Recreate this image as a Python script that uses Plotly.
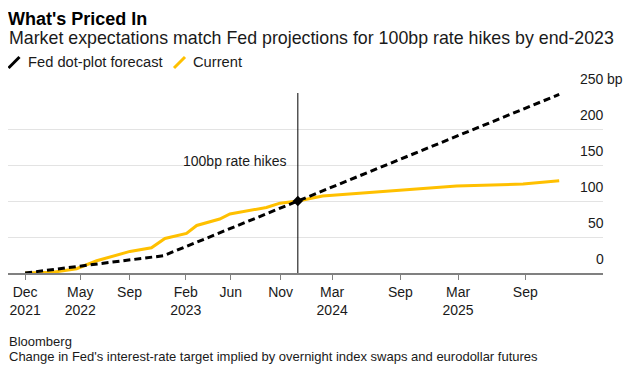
import plotly.graph_objects as go

# ---------------- data ----------------
fed_dates = ["2021-12-01", "2022-12-15", "2023-12-18", "2024-12-15", "2025-12-03"]
fed_values = [0, 24, 100, 175, 248]

cur_dates = ["2021-12-01", "2022-02-15", "2022-04-21", "2022-06-15", "2022-09-14",
             "2022-11-12", "2022-12-19", "2023-02-16", "2023-03-16", "2023-05-18",
             "2023-06-15", "2023-09-23", "2023-10-30", "2023-12-18", "2024-02-24",
             "2024-07-02", "2024-10-11", "2025-02-25", "2025-08-26", "2025-12-03"]
cur_values = [0, 1, 6, 17, 30, 35, 48, 55, 66, 75, 82, 91, 97, 100, 107, 112, 116.5,
              121, 123.5, 128]

event_date = ["2023-12-18"]
event_value = [100]
event_label = "100bp rate hikes"

series_names = ["Fed dot-plot forecast", "Current"]
series_colors = ["#000000", "#FFC000"]

x_tick_dates = ["2021-12-01", "2022-05-01", "2022-09-13", "2023-02-14", "2023-06-17",
                "2023-11-01", "2024-03-21", "2024-09-24", "2025-03-01", "2025-09-01"]
x_tick_text = ["Dec<br>2021", "May<br>2022", "Sep", "Feb<br>2023", "Jun", "Nov",
               "Mar<br>2024", "Sep", "Mar<br>2025", "Sep"]
y_ticks = [0, 50, 100, 150, 200, 250]
y_unit = "bp"

title = "What's Priced In"
subtitle = "Market expectations match Fed projections for 100bp rate hikes by end-2023"
source = "Bloomberg"
note = "Change in Fed's interest-rate target implied by overnight index swaps and eurodollar futures"

# ---------------- layout geometry ----------------
# the page body has an 8px margin, so the figure is drawn 8px in and down
OFF = 8
W, H = 640 - OFF, 367 - OFF
ML, MR, MT, MB = 8 - OFF, 37, 93 - OFF, 94
PW, PH = W - ML - MR, H - MT - MB
FONT = "Liberation Sans, Arial, Helvetica, sans-serif"


def px(x):
    """reference-page pixel x -> paper coordinate"""
    return (x - OFF - ML) / PW


def py(y):
    """reference-page pixel y -> paper coordinate"""
    return (H - MB - (y - OFF)) / PH


fig = go.Figure()

fig.add_trace(go.Scatter(
    x=cur_dates, y=cur_values, mode="lines", name=series_names[1],
    line=dict(color=series_colors[1], width=3), cliponaxis=False, showlegend=False))
fig.add_trace(go.Scatter(
    x=fed_dates, y=fed_values, mode="lines", name=series_names[0],
    line=dict(color=series_colors[0], width=3, dash="7px,4px"), cliponaxis=False,
    showlegend=False))
fig.add_trace(go.Scatter(
    x=event_date, y=event_value, mode="markers",
    marker=dict(color="#000000", size=8, symbol="diamond"), cliponaxis=False,
    showlegend=False))

annotations = []
annotations.append(dict(text="<b>%s</b>" % title, x=px(7), y=py(8), xref="paper", yref="paper",
                        xanchor="left", yanchor="top", showarrow=False, borderpad=0,
                        font=dict(family=FONT, size=18, color="#000000")))
annotations.append(dict(text=subtitle, x=px(7), y=py(38), xref="paper", yref="paper",
                        xanchor="left", yanchor="middle", showarrow=False,
                        font=dict(family=FONT, size=17.8, color="#1a1a1a")))
for name, lx in zip(series_names, [26, 191]):
    annotations.append(dict(text=name, x=px(lx), y=py(62.4), xref="paper", yref="paper",
                            xanchor="left", yanchor="middle", showarrow=False,
                            font=dict(family=FONT, size=14.7, color="#1a1a1a")))
annotations.append(dict(text=source, x=px(7), y=py(341.5), xref="paper", yref="paper",
                        xanchor="left", yanchor="middle", showarrow=False,
                        font=dict(family=FONT, size=13, color="#1a1a1a")))
annotations.append(dict(text=note, x=px(7), y=py(356.5), xref="paper", yref="paper",
                        xanchor="left", yanchor="middle", showarrow=False,
                        font=dict(family=FONT, size=13, color="#1a1a1a")))
for v in y_ticks:
    annotations.append(dict(text=str(v), x=1, y=v, xref="paper", yref="y",
                            xanchor="right", yanchor="middle", yshift=14, xshift=3,
                            showarrow=False, font=dict(family=FONT, size=14, color="#1a1a1a")))
annotations.append(dict(text=y_unit, x=1, y=y_ticks[-1], xref="paper", yref="y",
                        xanchor="left", yanchor="middle", yshift=14, xshift=2,
                        showarrow=False, font=dict(family=FONT, size=14, color="#1a1a1a")))
annotations.append(dict(text=event_label, x=event_date[0], y=155, xref="x", yref="y",
                        xanchor="right", yanchor="middle", xshift=-9, showarrow=False,
                        font=dict(family=FONT, size=14, color="#1a1a1a")))

shapes = [
    dict(type="line", xref="x", yref="y", x0=event_date[0], x1=event_date[0],
         y0=y_ticks[0], y1=y_ticks[-1], line=dict(color="#000000", width=1)),
    dict(type="line", xref="paper", yref="paper", x0=px(8.5), y0=py(68), x1=px(19.5), y1=py(57),
         line=dict(color=series_colors[0], width=3)),
    dict(type="line", xref="paper", yref="paper", x0=px(174), y0=py(68), x1=px(185), y1=py(57),
         line=dict(color=series_colors[1], width=3)),
]

fig.update_layout(
    width=W, height=H,
    margin=dict(l=ML, r=MR, t=MT, b=MB, pad=0),
    paper_bgcolor="#ffffff", plot_bgcolor="#ffffff",
    showlegend=False,
    annotations=annotations,
    shapes=shapes,
    font=dict(family=FONT, size=14, color="#1a1a1a"),
    xaxis=dict(type="date", range=["2021-10-15", "2026-04-02"], showgrid=False,
               zeroline=False, showline=True, linecolor="#808080", linewidth=1.5,
               ticks="outside", ticklen=5, tickwidth=1, tickcolor="#808080",
               tickvals=x_tick_dates, ticktext=x_tick_text,
               tickfont=dict(family=FONT, size=14, color="#1a1a1a")),
    yaxis=dict(range=[y_ticks[0], y_ticks[-1]], tickvals=y_ticks, showticklabels=False,
               showgrid=True, gridcolor="#e3e3e3", gridwidth=1, zeroline=False,
               showline=False, ticks=""),
)

fig.write_html("out.html")
